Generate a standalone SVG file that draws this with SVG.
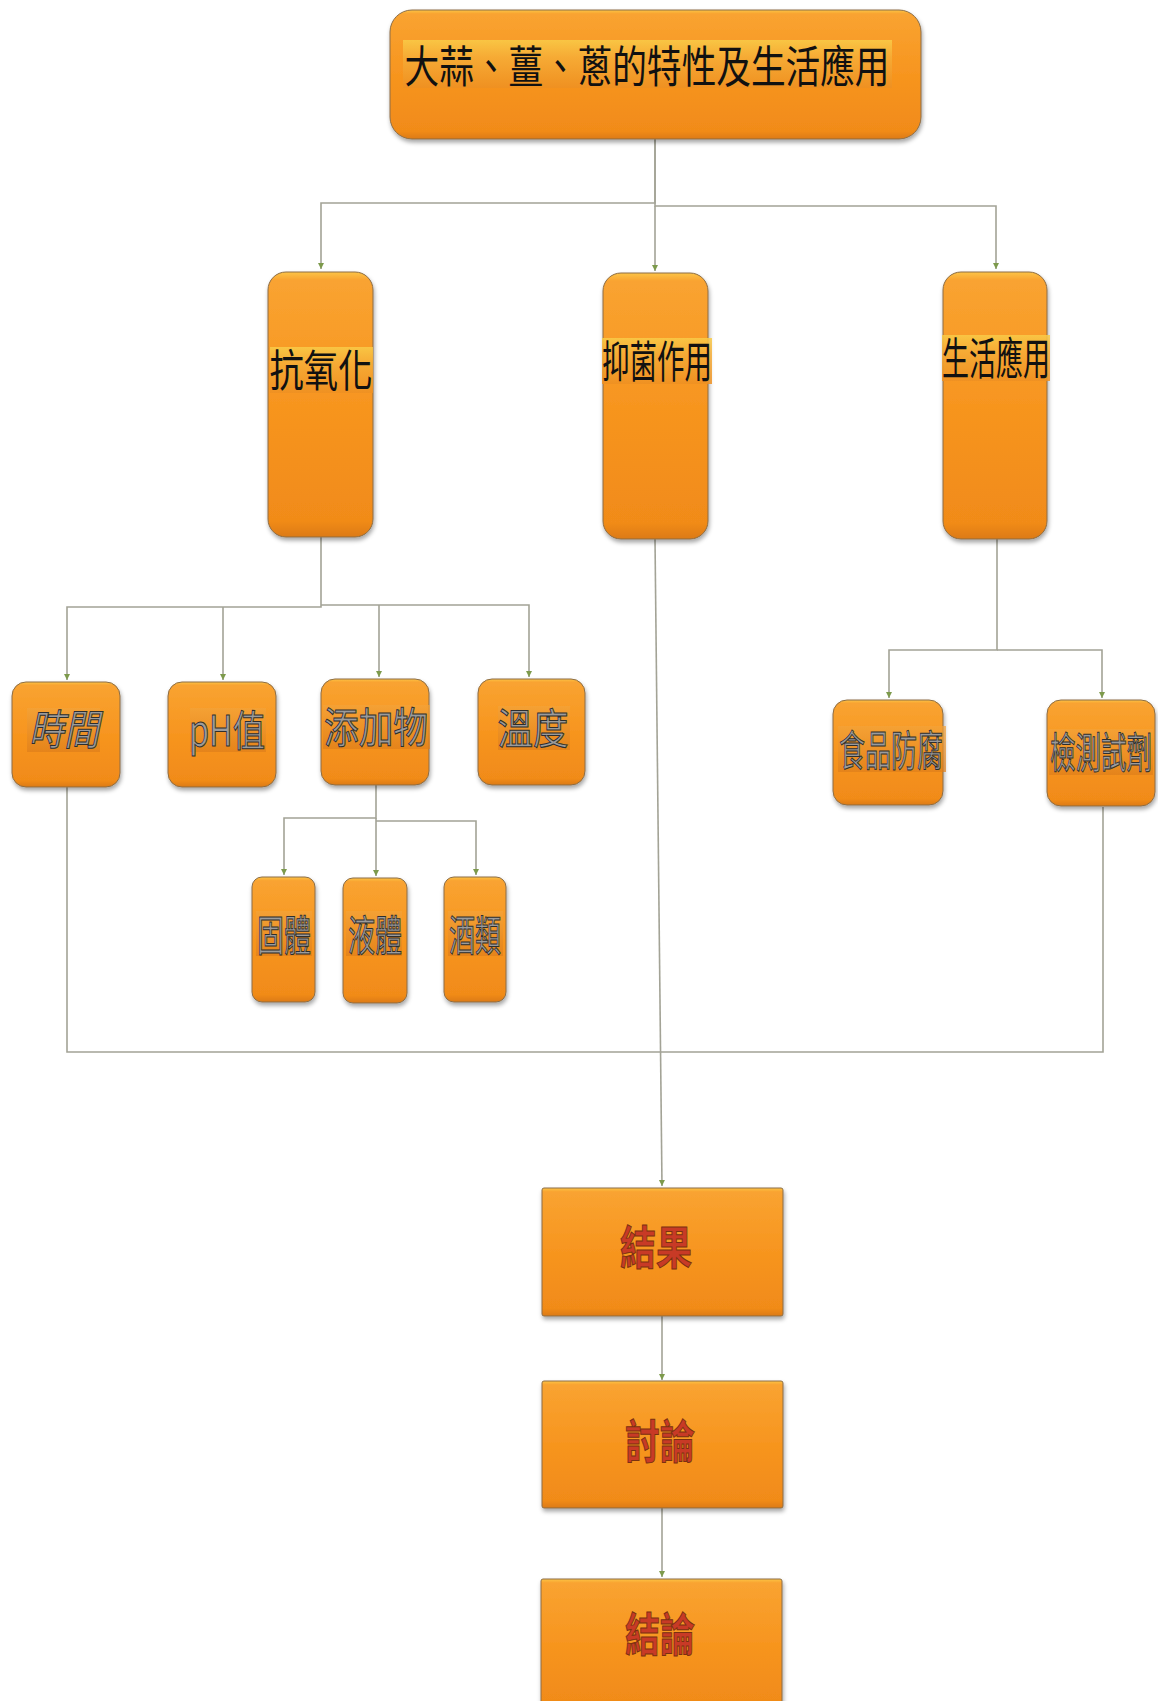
<svg xmlns="http://www.w3.org/2000/svg" width="1158" height="1701" viewBox="0 0 1158 1701">
<defs>
<linearGradient id="og" x1="0" y1="0" x2="0" y2="1">
<stop offset="0" stop-color="#fcc445"/>
<stop offset="0.03" stop-color="#f9a331"/>
<stop offset="0.5" stop-color="#f7951f"/>
<stop offset="0.94" stop-color="#f18b19"/>
<stop offset="1" stop-color="#dc7a12"/>
</linearGradient>
<linearGradient id="band" x1="0" y1="0" x2="0" y2="1">
<stop offset="0" stop-color="#f9cc48"/>
<stop offset="0.35" stop-color="#f6ae38"/>
<stop offset="1" stop-color="#ee9022"/>
</linearGradient>
<linearGradient id="band2" x1="0" y1="0" x2="0" y2="1">
<stop offset="0" stop-color="#f3a33a"/>
<stop offset="1" stop-color="#de7e1a"/>
</linearGradient>
<filter id="sh" x="-10%" y="-10%" width="130%" height="130%">
<feDropShadow dx="1" dy="3" stdDeviation="2" flood-color="#000" flood-opacity="0.35"/>
</filter>
<marker id="ah" markerUnits="userSpaceOnUse" markerWidth="7" markerHeight="7" refX="6" refY="3.5" orient="auto">
<path d="M0,0.5 L6,3.5 L0,6.5 z" fill="#7d9a4c"/>
</marker>
</defs>
<style>
.box{fill:url(#og);stroke:#8c6d46;stroke-width:1;filter:url(#sh)}
.ln{fill:none;stroke:#a3a396;stroke-width:1.6}
.t1{font-family:"Noto Sans CJK TC","Noto Sans CJK SC",sans-serif;font-size:44px;fill:#111;text-anchor:middle}
.t2{font-family:"Noto Sans CJK TC","Noto Sans CJK SC",sans-serif;font-size:42px;fill:#9b9b9b;stroke:#2e2e2e;stroke-width:1;text-anchor:middle}
.t3{font-family:"Noto Sans CJK TC","Noto Sans CJK SC",sans-serif;font-size:46px;font-weight:bold;fill:#c83a26;stroke:#7a3010;stroke-width:1;text-anchor:middle}
.bd{fill:url(#band);opacity:0.85}
.bd2{fill:url(#band2);opacity:0.7}
</style>

<g id="connectors">
<path class="ln" d="M655,139 V203 H321 V269" marker-end="url(#ah)"/>
<path class="ln" d="M655,139 V206 H996 V269" marker-end="url(#ah)"/>
<path class="ln" d="M655,206 V271" marker-end="url(#ah)"/>
<path class="ln" d="M321,537 V607 H67 V680" marker-end="url(#ah)"/>
<path class="ln" d="M223,607 V680" marker-end="url(#ah)"/>
<path class="ln" d="M321,605 H529 V677" marker-end="url(#ah)"/>
<path class="ln" d="M379,605 V677" marker-end="url(#ah)"/>
<path class="ln" d="M376,785 V818 H284 V875" marker-end="url(#ah)"/>
<path class="ln" d="M376,818 V876" marker-end="url(#ah)"/>
<path class="ln" d="M376,821 H476 V875" marker-end="url(#ah)"/>
<path class="ln" d="M997,539 V650 H889 V698" marker-end="url(#ah)"/>
<path class="ln" d="M997,650 H1102 V698" marker-end="url(#ah)"/>
<path class="ln" d="M67,787 V1052 H1103 V807"/>
<path class="ln" d="M655,539 L662,1186" marker-end="url(#ah)"/>
<path class="ln" d="M662,1316 V1380" marker-end="url(#ah)"/>
<path class="ln" d="M662,1508 V1577" marker-end="url(#ah)"/>
</g>

<g id="n-title">
<rect class="box" x="390" y="10" width="531" height="129" rx="22"/>
<rect class="bd" x="403" y="40" width="489" height="48"/>
<text class="t1" x="647" y="83" textLength="485" lengthAdjust="spacingAndGlyphs">大蒜、薑、蔥的特性及生活應用</text>
</g>

<g id="n-antiox">
<rect class="box" x="268" y="272" width="105" height="265" rx="18"/>
<rect class="bd" x="270" y="347" width="103" height="46"/>
<text class="t1" x="321" y="387" font-size="42" textLength="103" lengthAdjust="spacingAndGlyphs">抗氧化</text>
</g>

<g id="n-antibac">
<rect class="box" x="603" y="273" width="105" height="266" rx="18"/>
<rect class="bd" x="602" y="338" width="110" height="46"/>
<text class="t1" x="657" y="378" font-size="42" textLength="110" lengthAdjust="spacingAndGlyphs">抑菌作用</text>
</g>

<g id="n-life">
<rect class="box" x="943" y="272" width="104" height="267" rx="18"/>
<rect class="bd" x="942" y="335" width="108" height="46"/>
<text class="t1" x="996" y="375" font-size="42" textLength="108" lengthAdjust="spacingAndGlyphs">生活應用</text>
</g>

<g id="n-time">
<rect class="box" x="12" y="682" width="108" height="105" rx="14"/>
<rect class="bd2" x="27" y="708" width="73" height="44"/>
<text class="t2" x="64" y="745" font-style="italic" textLength="70" lengthAdjust="spacingAndGlyphs">時間</text>
</g>

<g id="n-ph">
<rect class="box" x="168" y="682" width="108" height="105" rx="14"/>
<rect class="bd2" x="190" y="708" width="76" height="44"/>
<text class="t2" x="227" y="746" font-family="Liberation Serif, Noto Sans CJK TC, serif" textLength="76" lengthAdjust="spacingAndGlyphs">pH值</text>
</g>

<g id="n-add">
<rect class="box" x="321" y="679" width="108" height="106" rx="14"/>
<rect class="bd2" x="323" y="705" width="107" height="44"/>
<text class="t2" x="376" y="743" textLength="104" lengthAdjust="spacingAndGlyphs">添加物</text>
</g>

<g id="n-temp">
<rect class="box" x="478" y="679" width="107" height="106" rx="14"/>
<rect class="bd2" x="498" y="706" width="72" height="44"/>
<text class="t2" x="533" y="744" textLength="71" lengthAdjust="spacingAndGlyphs">溫度</text>
</g>

<g id="n-solid">
<rect class="box" x="252" y="877" width="63" height="125" rx="10"/>
<rect class="bd2" x="256" y="911" width="56" height="45"/>
<text class="t2" x="284" y="951" textLength="54" lengthAdjust="spacingAndGlyphs">固體</text>
</g>

<g id="n-liquid">
<rect class="box" x="343" y="878" width="64" height="125" rx="10"/>
<rect class="bd2" x="346" y="911" width="56" height="45"/>
<text class="t2" x="375" y="951" textLength="54" lengthAdjust="spacingAndGlyphs">液體</text>
</g>

<g id="n-alcohol">
<rect class="box" x="444" y="877" width="62" height="125" rx="10"/>
<rect class="bd2" x="448" y="911" width="55" height="45"/>
<text class="t2" x="475" y="951" textLength="52" lengthAdjust="spacingAndGlyphs">酒類</text>
</g>

<g id="n-food">
<rect class="box" x="833" y="700" width="110" height="105" rx="14"/>
<rect class="bd2" x="838" y="726" width="108" height="46"/>
<text class="t2" x="891" y="766" textLength="104" lengthAdjust="spacingAndGlyphs">食品防腐</text>
</g>

<g id="n-reagent">
<rect class="box" x="1047" y="700" width="108" height="106" rx="14"/>
<rect class="bd2" x="1049" y="729" width="104" height="46"/>
<text class="t2" x="1101" y="768" textLength="102" lengthAdjust="spacingAndGlyphs">檢測試劑</text>
</g>

<g id="n-result">
<rect class="box" x="542" y="1188" width="241" height="128" rx="2"/>
<text class="t3" x="656" y="1264" textLength="72" lengthAdjust="spacingAndGlyphs">結果</text>
</g>

<g id="n-discuss">
<rect class="box" x="542" y="1381" width="241" height="127" rx="2"/>
<text class="t3" x="660" y="1458" textLength="70" lengthAdjust="spacingAndGlyphs">討論</text>
</g>

<g id="n-conclusion">
<rect class="box" x="541" y="1579" width="241" height="130" rx="2"/>
<text class="t3" x="660" y="1651" textLength="70" lengthAdjust="spacingAndGlyphs">結論</text>
</g>
</svg>
